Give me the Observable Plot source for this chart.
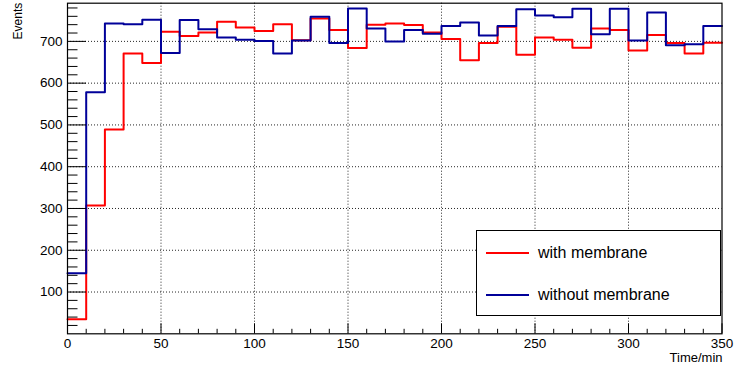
<!DOCTYPE html>
<html>
<head>
<meta charset="utf-8">
<script src="https://cdn.jsdelivr.net/npm/d3@7"></script>
<script src="https://cdn.jsdelivr.net/npm/@observablehq/plot@0.6"></script>
<style>
  html, body { margin: 0; padding: 0; background: #fff; }
  #wrap { position: relative; width: 734px; height: 367px; font-family: "Liberation Sans", Arial, sans-serif; }
  #legend { position: absolute; left: 476px; top: 230px; width: 245px; height: 86px; border: 1px solid #000; background: #fff; box-sizing: border-box; }
  .item { position: absolute; left: 0; height: 20px; display: flex; align-items: center; font-size: 16px; color: #000; }
  .swatch { display: inline-block; width: 43px; height: 2px; margin-left: 9px; margin-right: 9px; }
</style>
</head>
<body>
<div id="wrap"></div>
<script>
// Bin edges (minutes), 10-minute bins from 0 to 350
const binEdges = [0,10,20,30,40,50,60,70,80,90,100,110,120,130,140,150,160,170,180,190,200,210,220,230,240,250,260,270,280,290,300,310,320,330,340,350];
// Events per bin
const withMembrane = [35,307,489,671,648,723,713,721,747,733,725,741,703,755,727,684,740,743,739,721,706,655,696,735,668,709,704,685,731,727,678,715,696,671,697];
const withoutMembrane = [145,578,743,741,752,672,751,729,709,704,701,671,702,759,696,779,731,700,727,718,737,745,714,737,777,762,758,778,717,778,702,769,691,693,737];
const seriesNames = ["with membrane", "without membrane"];
const seriesColors = ["#ff0000", "#000099"];
const xTicks = [0,50,100,150,200,250,300,350];
const xMinorTicks = [10,20,30,40,60,70,80,90,110,120,130,140,160,170,180,190,210,220,230,240,260,270,280,290,310,320,330,340];
const yTicks = [100,200,300,400,500,600,700];
const yMinorTicks = [20,40,60,80,120,140,160,180,220,240,260,280,320,340,360,380,420,440,460,480,520,540,560,580,620,640,660,680,720,740,760,780];
const xGrid = [50,100,150,200,250,300];
const yGrid = [100,200,300,400,500,600,700];

function toSteps(values) {
  const pts = values.map((v, i) => ({t: binEdges[i], v}));
  pts.push({t: binEdges[values.length], v: values[values.length - 1]});
  return pts;
}
const redPts = toSteps(withMembrane);
const bluePts = toSteps(withoutMembrane);

const W = 734, H = 367;
const mL = 67, mR = 12.5, mT = 2.7, mB = 33.7;
const innerW = W - mL - mR, innerH = H - mT - mB;

const chart = Plot.plot({
  width: W, height: H,
  marginLeft: mL, marginRight: mR, marginTop: mT, marginBottom: mB,
  style: {fontFamily: "'Liberation Sans', Arial, sans-serif", fontSize: "13.5px", background: "#fff", color: "#000"},
  x: {domain: [0, 350]},
  y: {domain: [0, 791.4]},
  marks: [
    Plot.gridX(xGrid, {stroke: "#000", strokeOpacity: 0.85, strokeDasharray: "1,2", strokeWidth: 1}),
    Plot.gridY(yGrid, {stroke: "#000", strokeOpacity: 0.85, strokeDasharray: "1,2", strokeWidth: 1}),
    Plot.line(redPts, {x: "t", y: "v", curve: "step-after", stroke: seriesColors[0], strokeWidth: 2}),
    Plot.line(bluePts, {x: "t", y: "v", curve: "step-after", stroke: seriesColors[1], strokeWidth: 2}),
    Plot.tickX(xTicks, {x: d => d, stroke: "#000", strokeWidth: 1, insetTop: innerH - 10}),
    Plot.tickX(xMinorTicks, {x: d => d, stroke: "#000", strokeWidth: 1, insetTop: innerH - 4.5}),
    Plot.tickY(yTicks, {y: d => d, stroke: "#000", strokeWidth: 1, insetRight: innerW - 19}),
    Plot.tickY(yMinorTicks, {y: d => d, stroke: "#000", strokeWidth: 1, insetRight: innerW - 10.5}),
    Plot.axisX(xTicks, {tickSize: 0, tickPadding: 4.5, label: null, fontSize: 13.5}),
    Plot.axisY(yTicks, {tickSize: 0, tickPadding: 5, label: null, fontSize: 13.5}),
    Plot.frame({stroke: "#000", strokeWidth: 1.2}),
    Plot.text(["Time/min"], {frameAnchor: "bottom-right", textAnchor: "end", lineAnchor: "middle", dy: 24.5, dx: 0.5, fontSize: 13}),
    Plot.text(["Events"], {frameAnchor: "top-left", textAnchor: "end", lineAnchor: "middle", rotate: -90, dx: -49.5, dy: -0.5, fontSize: 12})
  ]
});

const wrap = document.getElementById("wrap");
wrap.appendChild(chart);

const legend = document.createElement("div");
legend.id = "legend";
const rowTops = [11.5, 54];
seriesNames.forEach((name, i) => {
  const item = document.createElement("div");
  item.className = "item";
  item.style.top = rowTops[i] + "px";
  const sw = document.createElement("span");
  sw.className = "swatch";
  sw.style.background = seriesColors[i];
  const label = document.createElement("span");
  label.textContent = name;
  item.appendChild(sw);
  item.appendChild(label);
  legend.appendChild(item);
});
wrap.appendChild(legend);
</script>
</body>
</html>
